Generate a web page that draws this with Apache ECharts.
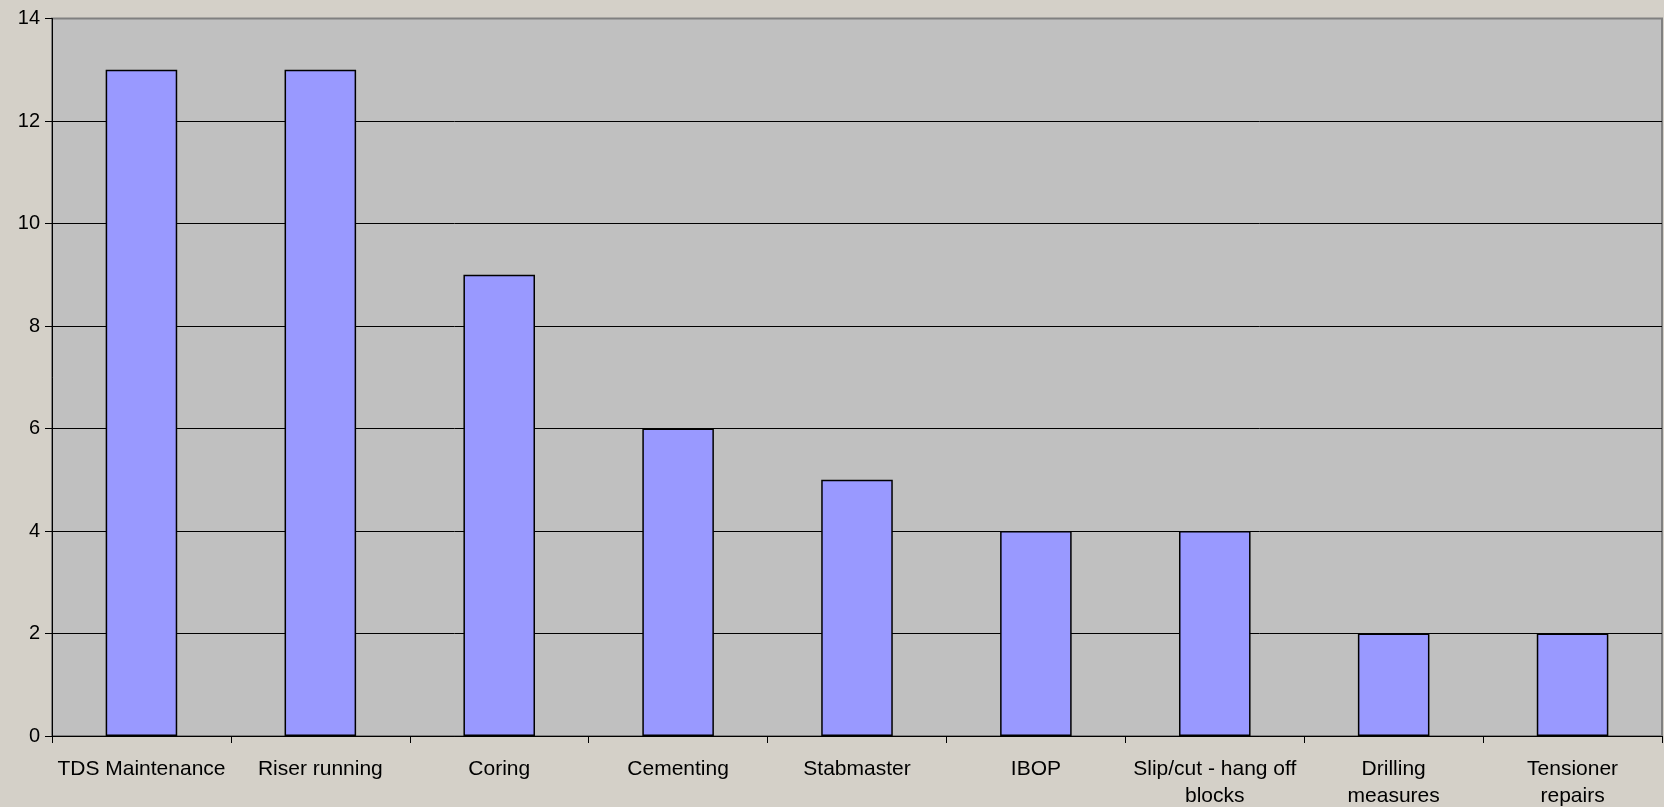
<!DOCTYPE html>
<html>
<head>
<meta charset="utf-8">
<script src="https://cdn.jsdelivr.net/npm/echarts@6/dist/echarts.min.js"></script>
<style>
html,body{margin:0;padding:0;background:#D4D0C8;}
#chart{width:1664px;height:807px;}
</style>
</head>
<body>
<div id="chart"></div>
<script>
const categories = ['TDS Maintenance', 'Riser running', 'Coring', 'Cementing', 'Stabmaster', 'IBOP', 'Slip/cut - hang off\nblocks', 'Drilling\nmeasures', 'Tensioner\nrepairs'];
const values = [13, 13, 9, 6, 5, 4, 4, 2, 2];
const yMin = 0, yMax = 14, yStep = 2;

const chart = echarts.init(document.getElementById('chart'));
chart.setOption({
  backgroundColor: '#D4D0C8',
  animation: false,
  textStyle: { fontFamily: 'Liberation Sans, Arial, sans-serif' },
  grid: {
    left: 52, right: 2, top: 18.5, bottom: 71,
    outerBoundsMode: 'none', containLabel: false,
    show: true, backgroundColor: '#C0C0C0', borderColor: '#808080', borderWidth: 2
  },
  xAxis: {
    type: 'category',
    data: categories,
    boundaryGap: true,
    axisLine: { lineStyle: { color: '#000', width: 1 } },
    axisTick: { show: true, length: 7, alignWithLabel: false, lineStyle: { color: '#000' } },
    axisLabel: { color: '#000', fontSize: 21, margin: 20, lineHeight: 27, interval: 0 }
  },
  yAxis: {
    type: 'value',
    min: yMin, max: yMax, interval: yStep,
    axisLine: { show: true, lineStyle: { color: '#000', width: 1 } },
    axisTick: { show: true, length: 7, lineStyle: { color: '#000' } },
    axisLabel: { color: '#000', fontSize: 20, margin: 12 },
    splitLine: { show: true, lineStyle: { color: ['#000','#000','#000','#000','#000','#000','#000','#808080'], width: 1 } }
  },
  series: [{
    type: 'bar',
    data: values,
    barWidth: '40%',
    itemStyle: { color: '#9999FF', borderColor: '#000', borderWidth: 1.5 }
  }]
});
</script>
</body>
</html>
